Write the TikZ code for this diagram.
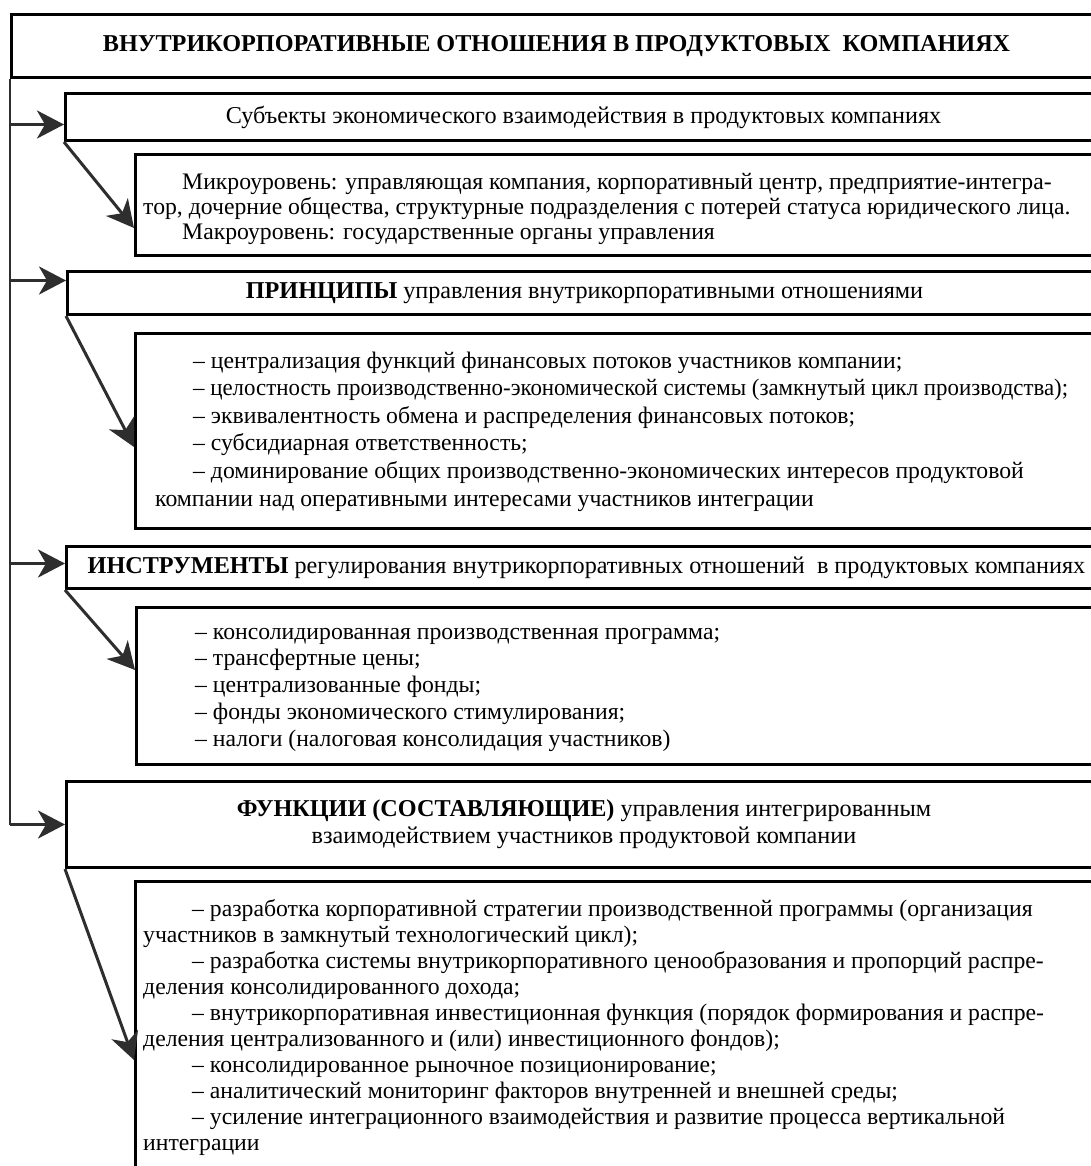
\documentclass[tikz,border=0pt]{standalone}
\usepackage{fontspec}
\usepackage{graphicx}
\setmainfont{Liberation Serif}
\usetikzlibrary{arrows.meta,calc}
\definecolor{arrowgray}{HTML}{2E2E2E}
\begin{document}
\begin{tikzpicture}[x=1pt,y=-1pt,
  panel/.style={draw=black, line width=3pt, inner sep=0pt, anchor=north west,
    font=\fontsize{24.2}{27}\selectfont, align=center},
  listtext/.style={anchor=base west, inner sep=0pt, font=\fontsize{23.7}{27}\selectfont},
  trunk/.style={draw=arrowgray, line width=2.5pt},
  arr/.style={draw=arrowgray, line width=3pt, -{Stealth[length=27pt,width=28pt,inset=8pt]}}]
\clip (0,0) rectangle (1091,1166);
\fill[white] (0,0) rectangle (1091,1166);

% boxes
\node[panel, minimum width=1090pt, minimum height=63pt] (title) at (10,13)
  {\textbf{ВНУТРИКОРПОРАТИВНЫЕ ОТНОШЕНИЯ В ПРОДУКТОВЫХ\ \ КОМПАНИЯХ}};
\node[panel, minimum width=1036pt, minimum height=47pt] (subj) at (64,92)
  {Субъекты экономического взаимодействия в продуктовых компаниях};
\node[panel, minimum width=966pt, minimum height=101pt] (micro) at (134,153) {};
\node[panel, minimum width=1034pt, minimum height=43pt] (princ) at (66,270)
  {\textbf{ПРИНЦИПЫ} управления внутрикорпоративными отношениями};
\node[panel, minimum width=966pt, minimum height=195pt] (plist) at (134,332) {};
\node[panel, minimum width=1040pt, minimum height=42pt] (instr) at (65,545)
  {\textbf{ИНСТРУМЕНТЫ} регулирования внутрикорпоративных отношений\ \ в продуктовых компаниях};
\node[panel, minimum width=965pt, minimum height=157pt] (ilist) at (135,606) {};
\node[panel, minimum width=1035pt, minimum height=86pt] (func) at (65,780)
  {\textbf{ФУНКЦИИ (СОСТАВЛЯЮЩИЕ)} управления интегрированным\\взаимодействием участников продуктовой компании};
\node[panel, minimum width=966pt, minimum height=300pt] (flist) at (134,880) {};

% texts of the list boxes
\node[listtext] (microtext) at (143,190) {\vtop{\baselineskip=25pt\lineskiplimit=-100pt
  \hbox{\hspace*{39pt}Микроуровень: управляющая компания, корпоративный центр, предприятие-интегра-}
  \hbox{тор, дочерние общества, структурные подразделения с потерей статуса юридического лица.}
  \hbox{\hspace*{39pt}Макроуровень: государственные органы управления}}};
\node[listtext] (plisttext) at (155,368) {\vtop{\baselineskip=27.6pt\lineskiplimit=-100pt
  \hbox{\hspace*{38pt}– централизация функций финансовых потоков участников компании;}
  \hbox{\hspace*{38pt}\scalebox{0.965}[1]{– целостность производственно-экономической системы (замкнутый цикл производства);}}
  \hbox{\hspace*{38pt}– эквивалентность обмена и распределения финансовых потоков;}
  \hbox{\hspace*{38pt}– субсидиарная ответственность;}
  \hbox{\hspace*{38pt}– доминирование общих производственно-экономических интересов продуктовой}
  \hbox{компании над оперативными интересами участников интеграции}}};
\node[listtext] (ilisttext) at (195,639) {\vtop{\baselineskip=26.75pt\lineskiplimit=-100pt
  \hbox{– консолидированная производственная программа;}
  \hbox{– трансфертные цены;}
  \hbox{– централизованные фонды;}
  \hbox{– фонды экономического стимулирования;}
  \hbox{– налоги (налоговая консолидация участников)}}};
\node[listtext] (flisttext) at (143,916) {\vtop{\baselineskip=26.1pt\lineskiplimit=-100pt
  \hbox{\hspace*{49pt}– разработка корпоративной стратегии производственной программы (организация}
  \hbox{участников в замкнутый технологический цикл);}
  \hbox{\hspace*{49pt}– разработка системы внутрикорпоративного ценообразования и пропорций распре-}
  \hbox{деления консолидированного дохода;}
  \hbox{\hspace*{49pt}– внутрикорпоративная инвестиционная функция (порядок формирования и распре-}
  \hbox{деления централизованного и (или) инвестиционного фондов);}
  \hbox{\hspace*{49pt}– консолидированное рыночное позиционирование;}
  \hbox{\hspace*{49pt}– аналитический мониторинг факторов внутренней и внешней среды;}
  \hbox{\hspace*{49pt}– усиление интеграционного взаимодействия и развитие процесса вертикальной}
  \hbox{интеграции}}};

% connector end points
\coordinate (j1) at ([yshift=-7.5pt]subj.west);
\coordinate (j3) at ([yshift=12.5pt]princ.west);
\coordinate (j5) at ([yshift=4pt]instr.west);
\coordinate (d1) at ([yshift=-75pt]micro.north west);
\coordinate (d3) at ([yshift=-115pt]plist.north west);
\coordinate (d5) at ([yshift=-64pt]ilist.north west);
\coordinate (d7) at ([yshift=-180pt]flist.north west);

% connectors
\draw[trunk] (title.south west) -- (title.south west |- func.west);
\draw[arr] (title.south west |- func.west) -- (func.west);
\draw[arr] (title.south west |- j1) -- (j1);
\draw[arr] (title.south west |- j3) -- (j3);
\draw[arr] (title.south west |- j5) -- (j5);
\draw[arr] (subj.south west) -- (d1);
\draw[arr] (princ.south west) -- (d3);
\draw[arr] (instr.south west) -- (d5);
\draw[arr] (func.south west) -- (d7);
\end{tikzpicture}
\end{document}
